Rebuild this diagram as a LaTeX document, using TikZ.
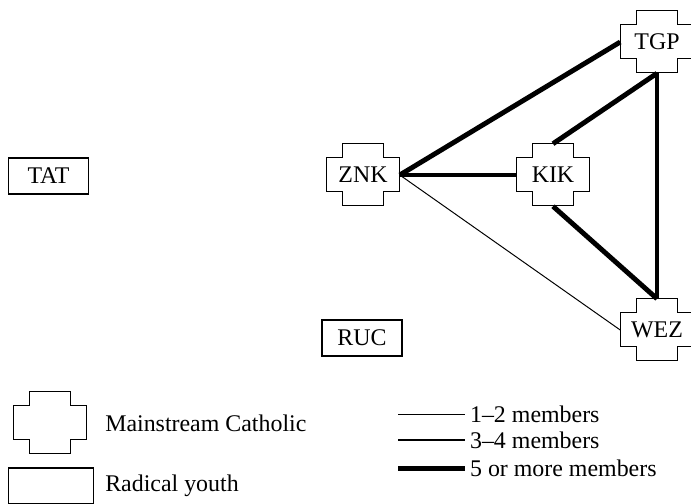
\documentclass[tikz,border=0pt]{standalone}
\usepackage{fontspec}
\setmainfont{Liberation Serif}
\usetikzlibrary{positioning}

\begin{document}
\begin{tikzpicture}[
    font=\fontsize{17}{20}\selectfont,
    youth/.style={rectangle, draw=black, line width=0.8pt, minimum width=2cm, minimum height=0.9cm},
    catholic/.style={rectangle, minimum width=1.825cm, minimum height=1.55cm, inner sep=0pt,
        append after command={\pgfextra{
            \draw[line width=0.8pt] (\tikzlastnode.north west) ++(0.4,0) -- ++(1.025,0) -- ++(0,-0.35)
                -- ++(0.4,0) -- ++(0,-0.85) -- ++(-0.4,0) -- ++(0,-0.35) -- ++(-1.025,0)
                -- ++(0,0.35) -- ++(-0.4,0) -- ++(0,0.85) -- ++(0.4,0) -- cycle;}}},
    few/.style={line width=0.7pt},
    some/.style={line width=1.6pt},
    many/.style={line width=3.5pt},
    legtext/.style={anchor=west, inner sep=0.12cm}
]
    \useasboundingbox (0,0) rectangle (17.275,12.575);

    % Mainstream Catholic groups
    \node[catholic] (znk) at (9.075,8.2) {ZNK};
    \node[catholic] (kik) at (13.825,8.2) {KIK};
    \node[catholic] (tgp) at (16.425,11.525) {TGP};
    \node[catholic] (wez) at (16.425,4.325) {WEZ};

    % Radical youth groups
    \node[youth] (tat) at (1.2125,8.175) {TAT};
    \node[youth] (ruc) at (9.05,4.125) {RUC};

    % Shared members
    \draw[many] (znk.east) -- (tgp.west);
    \draw[many] (znk.east) -- (kik.west);
    \draw[few] (znk.east) -- (wez.west);
    \draw[many] (kik.north) -- (tgp.south);
    \draw[many] (kik.south) -- (wez.north);
    \draw[many] (tgp.south) -- (wez.north);

    % Legend: group types
    \node[catholic] (lgcath) at (1.25,2.0) {};
    \node[anchor=west, inner sep=0pt] (lgcathtext) at (2.625,2.0) {Mainstream Catholic};
    \node[youth, minimum width=2.125cm] (lgyouth) at (1.27,0.425) {};
    \node[anchor=west, inner sep=0pt] (lgyouthtext) at (2.625,0.425) {Radical youth};

    % Legend: line widths
    \coordinate (lgfew) at (9.95,2.2167);
    \coordinate (lgsome) at (9.95,1.575);
    \coordinate (lgmany) at (9.95,0.8675);
    \node[legtext] (lgfewtext) at (11.625,2.2167) {1--2 members};
    \node[legtext] (lgsometext) at (11.625,1.575) {3--4 members};
    \node[legtext] (lgmanytext) at (11.625,0.8675) {5 or more members};
    \draw[few] (lgfew) -- (lgfewtext.west);
    \draw[some] (lgsome) -- (lgsometext.west);
    \draw[many] (lgmany) -- (lgmanytext.west);
\end{tikzpicture}
\end{document}
